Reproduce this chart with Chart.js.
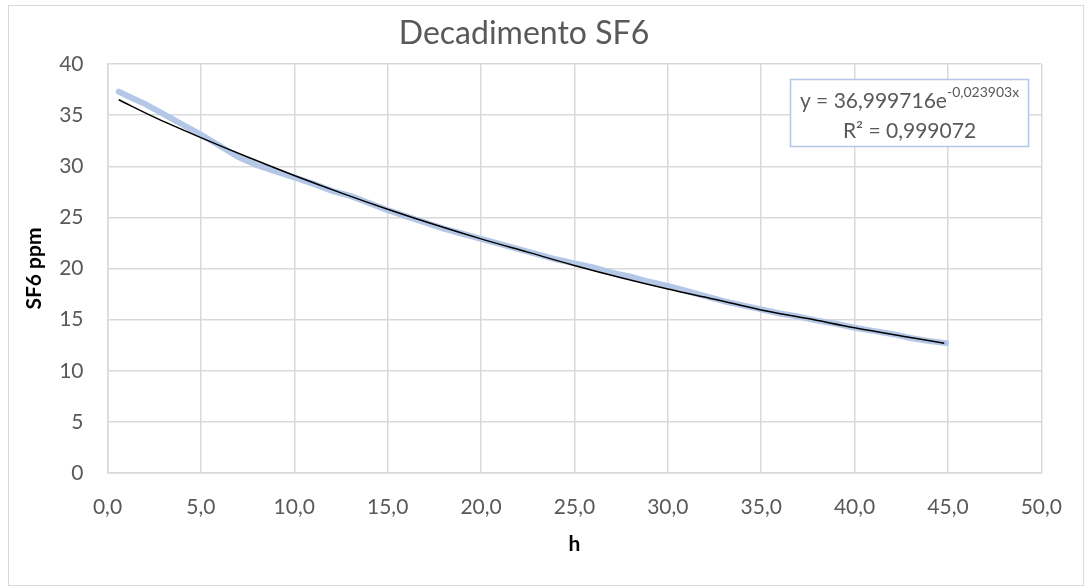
<!DOCTYPE html>
<html>
<head>
<meta charset="utf-8">
<script src="https://cdn.jsdelivr.net/npm/chart.js@4.4.1/dist/chart.umd.min.js"></script>
<style>
html,body{margin:0;padding:0;background:#fff;}
#wrap{width:1084px;height:586px;position:relative;}
</style>
</head>
<body>
<div id="wrap"><canvas id="c" width="1084" height="586"></canvas></div>
<script>
// Measured data (h, SF6 ppm)
const measuredH = [0.6,1,2,3,4,5,6,7,8,9,10,11,12,13,14,15,16,17,18,19,20,21,22,23,24,25,26,27,28,29,30,31,32,33,34,35,36,37,38,39,40,41,42,43,44,44.9];
const measuredPpm = [37.3,36.95,36.1,35.1,34.1,33.1,32.0,30.9,30.1,29.5,28.9,28.3,27.6,27.1,26.4,25.7,25.1,24.5,23.9,23.4,22.9,22.4,21.9,21.4,20.9,20.5,20.1,19.6,19.2,18.7,18.3,17.8,17.3,16.8,16.4,16.0,15.6,15.3,14.9,14.6,14.2,13.9,13.6,13.2,12.9,12.7];
// Trendline
const trendH = [0.6,2.5,5,7.5,10,12.5,15,17.5,20,22.5,25,27.5,30,32.5,35,37.5,40,42.5,44.8];
const trendPpm = [36.5,34.8,32.8,30.9,29.1,27.4,25.8,24.3,22.9,21.6,20.3,19.1,18.0,17.0,15.95,15.1,14.2,13.4,12.7];
const xTicks = [0,5,10,15,20,25,30,35,40,45,50];
const titleText = 'Decadimento SF6';
const xTitle = 'h';
const yTitle = 'SF6 ppm';
const eqMain = 'y = 36,999716e';
const eqExp = '-0,023903x';
const eqR2 = 'R² = 0,999072';

const measuredPts = measuredH.map((h,i)=>({x:h,y:measuredPpm[i]}));
const trendPts = trendH.map((h,i)=>({x:h,y:trendPpm[i]}));

const FONT = 'Lato';
const GRAY = '#595959';

const framePlugin = {
  id:'frame',
  beforeDraw(chart){
    const ctx = chart.ctx;
    ctx.save();
    ctx.fillStyle='#fff';
    ctx.fillRect(0,0,chart.width,chart.height);
    ctx.strokeStyle='#d9d9d9';
    ctx.lineWidth=1;
    ctx.strokeRect(8.5,5.5,1075,580);
    ctx.restore();
  },
  afterDraw(chart){
    const ctx = chart.ctx;
    ctx.save();
    const bx=790.5, by=79.5, bw=238, bh=67;
    ctx.fillStyle='#fff';
    ctx.fillRect(bx,by,bw,bh);
    ctx.strokeStyle='#b4c7e7';
    ctx.lineWidth=1.5;
    ctx.strokeRect(bx,by,bw,bh);
    ctx.fillStyle=GRAY;
    ctx.textBaseline='alphabetic';
    ctx.font='21px '+FONT;
    const w1 = ctx.measureText(eqMain).width;
    ctx.font='14px '+FONT;
    const w2 = ctx.measureText(eqExp).width;
    const cx = bx+bw/2;
    let sx = cx-(w1+w2)/2;
    ctx.font='21px '+FONT;
    ctx.textAlign='left';
    ctx.fillText(eqMain,sx,108);
    ctx.font='14px '+FONT;
    ctx.fillText(eqExp,sx+w1,97);
    ctx.font='21px '+FONT;
    ctx.textAlign='center';
    ctx.fillText(eqR2,cx,138);
    ctx.restore();
  }
};

new Chart(document.getElementById('c'),{
  type:'scatter',
  data:{
    datasets:[
      {label:'SF6',data:measuredPts,showLine:true,borderColor:'#b4c7e7',backgroundColor:'#b4c7e7',borderWidth:6,pointRadius:0,tension:0,borderCapStyle:'round',borderJoinStyle:'round',order:2},
      {label:'Trend',data:trendPts,showLine:true,borderColor:'#000',backgroundColor:'#000',borderWidth:1.5,pointRadius:0,cubicInterpolationMode:'monotone',order:1}
    ]
  },
  options:{
    responsive:false,
    animation:false,
    layout:{padding:{left:0,right:36,top:0,bottom:0}},
    plugins:{
      legend:{display:false},
      tooltip:{enabled:false},
      title:{display:true,text:titleText,color:GRAY,font:{family:FONT,size:32,weight:'normal'},padding:{top:14,bottom:11.6}}
    },
    scales:{
      x:{
        type:'linear',min:0,max:50,
        afterBuildTicks(s){s.ticks=xTicks.map(v=>({value:v}));},
        afterFit(s){s.height=113;},
        grid:{color:'#d9d9d9',lineWidth:1.5,drawTicks:false},
        border:{color:'#d9d9d9',width:1.5},
        ticks:{color:GRAY,font:{family:FONT,size:21},padding:22,maxRotation:0,
          callback:(v)=>v.toFixed(1).replace('.',',')},
        title:{display:true,text:xTitle,color:'#000',font:{family:FONT,size:21,weight:'bold'},padding:{top:4,bottom:29}}
      },
      y:{
        type:'linear',min:0,max:40,
        afterFit(s){s.width=107.5;},
        grid:{color:'#d9d9d9',lineWidth:1.5,drawTicks:false},
        border:{color:'#d9d9d9',width:1.5},
        ticks:{color:GRAY,font:{family:FONT,size:21},padding:24,stepSize:5},
        title:{display:true,text:yTitle,color:'#000',font:{family:FONT,size:21,weight:'bold'},padding:{top:22,bottom:0}}
      }
    }
  },
  plugins:[framePlugin]
});
</script>
</body>
</html>
